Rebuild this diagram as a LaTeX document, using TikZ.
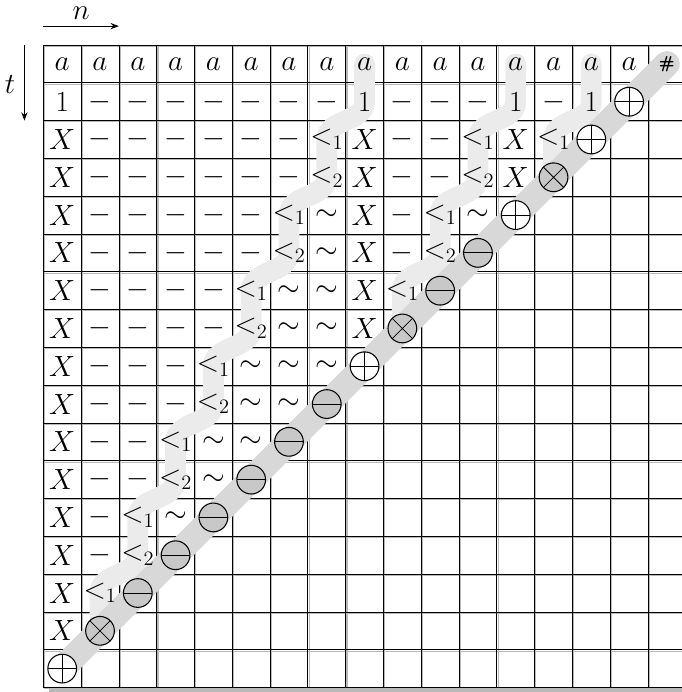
\RequirePackage{fix-cm}
\documentclass[tikz,border=0pt]{standalone}
\usetikzlibrary{positioning,arrows.meta,backgrounds}
\definecolor{TrailGray}{RGB}{235,235,235}
\definecolor{BandGray}{RGB}{216,216,216}
\definecolor{DotGray}{RGB}{200,200,200}
\definecolor{ShadowGray}{RGB}{185,185,185}
\tikzset{
  flow/.style={-{Stealth[length=2.2mm]},thick},
  cell/.style={inner sep=0pt,font=\fontsize{22}{26}\selectfont,
    execute at begin node=$,execute at end node=$},
  label/.style={inner sep=0pt,font=\fontsize{22}{26}\selectfont},
  trail/.style={draw=TrailGray,line width=0.55cm,line cap=round,line join=round},
  wave/.style={out=-90,in=90},
  band/.style={draw=BandGray,line width=0.68cm,line cap=round},
  circ/.style={circle,draw,line width=0.8pt,minimum size=0.76cm,inner sep=0pt},
  pluscirc/.style={circ,fill=white,path picture={
    \draw[line width=0.6pt] (path picture bounding box.north) -- (path picture bounding box.south)
      (path picture bounding box.west) -- (path picture bounding box.east);}},
  minuscirc/.style={circ,fill=DotGray,path picture={
    \draw[line width=0.6pt] (path picture bounding box.west) -- (path picture bounding box.east);}},
  timescirc/.style={circ,fill=DotGray,path picture={
    \draw[line width=0.6pt] ([shift={(45:0.38)}]path picture bounding box.center) -- ([shift={(225:0.38)}]path picture bounding box.center)
      ([shift={(135:0.38)}]path picture bounding box.center) -- ([shift={(315:0.38)}]path picture bounding box.center);}}
}
% one row of the table, entries from column 0 on
\newcommand{\cellrow}[2]{%
  \foreach \e [count=\c from 0] in {#2} {\node[cell] (c-#1-\c) at (\c+0.5,-#1-0.5) {\e};}}

\begin{document}
\begin{tikzpicture}
  \useasboundingbox (-1.146,1.191) rectangle (16.899,-17.119);
  % axes
  \coordinate (nstart) at (0,0.5);
  \coordinate (nend) at (2,0.5);
  \coordinate (tstart) at (-0.5,0);
  \coordinate (tend) at (-0.5,-2);
  \draw[flow] (nstart) -- (nend);
  \draw[flow] (tstart) -- (tend);
  \node[label] (nlab) at (1,0.85) {$n$};
  \node[label] (tlab) at (-0.88,-1.05) {$t$};

  % table entries
  \cellrow{0}{a,a,a,a,a,a,a,a,a,a,a,a,a,a,a,a}
  \node[inner sep=0pt,font=\fontsize{13}{15}\selectfont\sffamily\bfseries] (c-0-16) at (16.5,-0.5) {\#};
  \cellrow{1}{1,-,-,-,-,-,-,-,1,-,-,-,1,-,1}
  \cellrow{2}{X,-,-,-,-,-,-,<_1,X,-,-,<_1,X,<_1}
  \cellrow{3}{X,-,-,-,-,-,-,<_2,X,-,-,<_2,X}
  \cellrow{4}{X,-,-,-,-,-,<_1,\sim,X,-,<_1,\sim}
  \cellrow{5}{X,-,-,-,-,-,<_2,\sim,X,-,<_2}
  \cellrow{6}{X,-,-,-,-,<_1,\sim,\sim,X,<_1}
  \cellrow{7}{X,-,-,-,-,<_2,\sim,\sim,X}
  \cellrow{8}{X,-,-,-,<_1,\sim,\sim,\sim}
  \cellrow{9}{X,-,-,-,<_2,\sim,\sim}
  \cellrow{10}{X,-,-,<_1,\sim,\sim}
  \cellrow{11}{X,-,-,<_2,\sim}
  \cellrow{12}{X,-,<_1,\sim}
  \cellrow{13}{X,-,<_2}
  \cellrow{14}{X,<_1}
  \cellrow{15}{X}

  % diagonal operators
  \foreach \r/\k in {1/pluscirc,2/pluscirc,3/timescirc,4/pluscirc,5/minuscirc,6/minuscirc,
      7/timescirc,8/pluscirc,9/minuscirc,10/minuscirc,11/minuscirc,12/minuscirc,
      13/minuscirc,14/minuscirc,15/timescirc,16/pluscirc}
    \node[\k] (o-\r) at ({16.5-\r},{-\r-0.5}) {};

  \begin{scope}[on background layer]
    % grid with its shadow
    \draw[ShadowGray,line width=0.8pt,shift={(0.035,-0.035)}] (0,-17) grid (17,0);
    \draw[ShadowGray,line width=3pt] (0.15,-17.07) -- (17.2,-17.07);
    \draw[line width=0.6pt] (0,-17) grid (17,0);
    % trails of the three counters
    \draw[trail] (c-0-8.center) -- (c-1-8.center) to[wave] (c-2-7.center) -- (c-3-7.center)
      to[wave] (c-4-6.center) -- (c-5-6.center) to[wave] (c-6-5.center) -- (c-7-5.center)
      to[wave] (c-8-4.center) -- (c-9-4.center) to[wave] (c-10-3.center) -- (c-11-3.center)
      to[wave] (c-12-2.center) -- (c-13-2.center) to[wave] (c-14-1.center) -- (o-15.center);
    \draw[trail] (c-0-12.center) -- (c-1-12.center) to[wave] (c-2-11.center) -- (c-3-11.center)
      to[wave] (c-4-10.center) -- (c-5-10.center) to[wave] (c-6-9.center) -- (o-7.center);
    \draw[trail] (c-0-14.center) -- (c-1-14.center) to[wave] (c-2-13.center) -- (o-3.center);
    % diagonal band
    \draw[band] (c-0-16.center) -- (o-16.center);
  \end{scope}
\end{tikzpicture}
\end{document}
